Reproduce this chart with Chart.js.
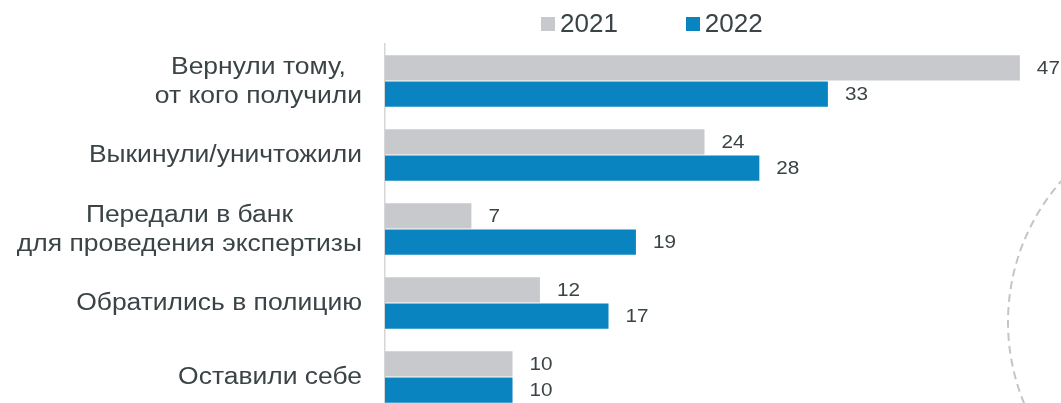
<!DOCTYPE html>
<html>
<head>
<meta charset="utf-8">
<script src="https://cdn.jsdelivr.net/npm/chart.js@4.4.1/dist/chart.umd.min.js"></script>
<style>
  html, body { margin: 0; padding: 0; background: #fff; overflow: hidden; }
  #wrap { position: relative; width: 1061px; height: 414px; }
  #legend { position: absolute; top: 8px; left: 541px; display: flex; font-family: "Liberation Sans", Arial, sans-serif; font-size: 26px; color: #3a4447; }
  #legend .item { display: flex; align-items: center; margin-right: 68px; }
  #legend .box { width: 14px; height: 14px; margin-right: 5px; }
</style>
</head>
<body>
<div id="wrap">
  <canvas id="chart" width="1061" height="414"></canvas>
  <div id="legend"></div>
</div>
<script>
const categories = [
    ['Вернули тому,', 'от кого получили'],
    ['Выкинули/уничтожили'],
    ['Передали в банк', 'для проведения экспертизы'],
    ['Обратились в полицию'],
    ['Оставили себе']
];
const values2021 = [47, 24, 7, 12, 10];
const values2022 = [33, 28, 19, 17, 10];
const seriesNames = ['2021', '2022'];
const seriesColors = ['#c7c9cc', '#0a84c1'];

const textColor = '#3a4447';
const fontFamily = '"Liberation Sans", Arial, sans-serif';
const stretch = 1.15; // text in the source is a bit wide

// category labels: lines centred inside a right-aligned block
const catLabels = {
    id: 'catLabels',
    afterDraw(chart) {
        const ctx = chart.ctx;
        const y = chart.scales.y;
        const right = chart.chartArea.left - 23;
        ctx.save();
        ctx.font = '23px ' + fontFamily;
        ctx.fillStyle = textColor;
        ctx.textAlign = 'center';
        ctx.textBaseline = 'middle';
        categories.forEach((lines, i) => {
            const cy = y.getPixelForValue(i);
            const w = Math.max(...lines.map(l => ctx.measureText(l).width)) * stretch;
            const lh = 29;
            lines.forEach((l, k) => {
                const cx = right - w / 2;
                const ly = cy + 1 + (k - (lines.length - 1) / 2) * lh;
                ctx.save();
                ctx.translate(cx, ly);
                ctx.scale(stretch, 1);
                ctx.fillText(l, 0, 0);
                ctx.restore();
            });
        });
        ctx.restore();
    }
};

// value labels at the bar ends
const valueLabels = {
    id: 'valueLabels',
    afterDatasetsDraw(chart) {
        const ctx = chart.ctx;
        ctx.save();
        ctx.font = '18px ' + fontFamily;
        ctx.fillStyle = textColor;
        ctx.textAlign = 'left';
        ctx.textBaseline = 'middle';
        chart.data.datasets.forEach((ds, di) => {
            chart.getDatasetMeta(di).data.forEach((bar, i) => {
                ctx.save();
                ctx.translate(bar.x + 17, bar.y + 1);
                ctx.scale(stretch, 1);
                ctx.fillText(ds.data[i], 0, 0);
                ctx.restore();
            });
        });
        ctx.restore();
    }
};

// dashed decorative arc on the right
const arcDecor = {
    id: 'arcDecor',
    beforeDraw(chart) {
        const ctx = chart.ctx;
        ctx.save();
        ctx.strokeStyle = '#c3c5c8';
        ctx.lineWidth = 2;
        ctx.setLineDash([8, 5]);
        ctx.beginPath();
        ctx.arc(1221, 322, 213, 0, Math.PI * 2);
        ctx.stroke();
        ctx.restore();
    }
};

const legendEl = document.getElementById('legend');
seriesNames.forEach((n, i) => {
    legendEl.innerHTML += '<div class="item"><div class="box" style="background:' + seriesColors[i] + '"></div>' + n + '</div>';
});

new Chart(document.getElementById('chart'), {
    type: 'bar',
    data: {
        labels: categories.map(c => c.join(' ')),
        datasets: [
            { label: seriesNames[0], data: values2021, backgroundColor: seriesColors[0] },
            { label: seriesNames[1], data: values2022, backgroundColor: seriesColors[1] }
        ]
    },
    options: {
        indexAxis: 'y',
        responsive: false,
        animation: false,
        categoryPercentage: 0.71,
        barPercentage: 0.96,
        layout: { padding: { top: 44, left: 0, right: 0, bottom: 0 } },
        plugins: {
            legend: { display: false },
            tooltip: { enabled: false }
        },
        scales: {
            x: {
                display: false,
                min: 0.7,
                max: 50
            },
            y: {
                grid: { display: false },
                ticks: { display: false },
                border: { display: true, color: '#d4d6d8', width: 1.5 },
                afterFit(scale) { scale.width = 385; }
            }
        }
    },
    plugins: [arcDecor, catLabels, valueLabels]
});
</script>
</body>
</html>
